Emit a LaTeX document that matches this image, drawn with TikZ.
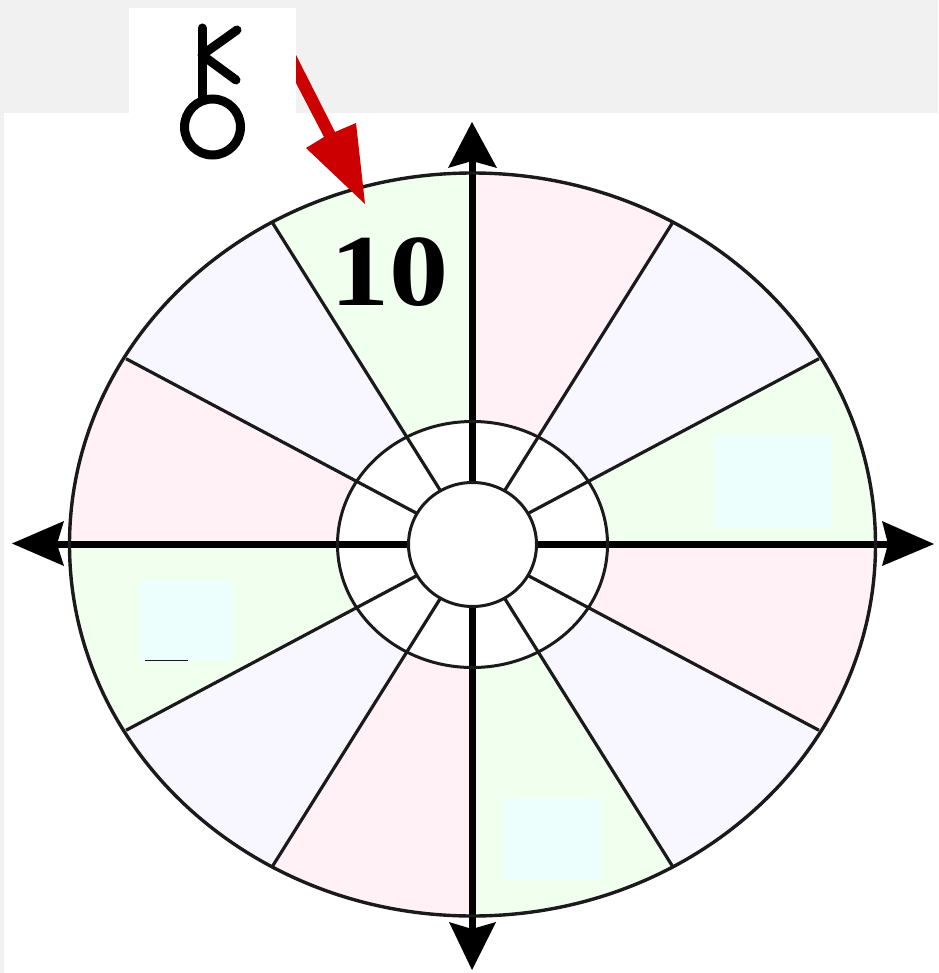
\documentclass[tikz,border=0pt]{standalone}
\usepackage{fontspec}
\setmainfont{Liberation Serif}
\definecolor{pinkS}{HTML}{FFF1F5}
\definecolor{greenS}{HTML}{F1FFEF}
\definecolor{lavS}{HTML}{F8F7FF}
\definecolor{paleBox}{HTML}{EDFFFD}
\definecolor{bandGray}{HTML}{F1F1F1}
\definecolor{redArrow}{HTML}{CC0000}
\definecolor{ringLine}{HTML}{1A1A1A}
\tikzset{
  x=1pt,y=1pt,
  ringline/.style={draw=ringLine,line width=3pt},
  spokeline/.style={draw=ringLine,line width=3.2pt},
  axisline/.style={draw=black,line width=7pt},
  headfill/.style={fill=black,draw=none},
  glyphline/.style={draw=black,line width=9pt,line cap=round,line join=round},
  palebox/.style={fill=paleBox,draw=none}
}
\begin{document}
\begin{tikzpicture}
\useasboundingbox (0,0) rectangle (938,-973);
\fill[white] (0,0) rectangle (938,-973);
% grey band and left strip
\fill[bandGray] (0,0) rectangle (938,-113);
\fill[bandGray] (0,0) rectangle (4,-973);
\fill[white] (129,-8) rectangle (296,-113);
\coordinate (c) at (472.5,-544.5);
% sectors
\begin{scope}
\clip[shift={(c)}] (0,0) ellipse [x radius=403,y radius=371.5];
\foreach \a/\b/\col in {0/30/greenS,30/60/lavS,60/90/pinkS,90/120/greenS,120/150/lavS,150/180/pinkS,180/210/greenS,210/240/lavS,240/270/pinkS,270/300/greenS,300/330/lavS,330/360/pinkS}{
  \fill[\col,shift={(c)}] (0,0) -- (\a:480 and 446) -- ++(\a+90:0) -- ({(\a+\b)/2}:560 and 520) -- (\b:480 and 446) -- cycle;
}
\end{scope}
% pale boxes
\fill[palebox] (714,-435) rectangle (832,-527);
\fill[palebox] (139,-580) rectangle (233,-660);
\fill[palebox] (503,-798) rectangle (601,-880);
\draw[draw=ringLine,line width=1.2pt] (145,-660.5) -- (188,-660.5);
% white hub ring
\fill[white,shift={(c)}] (0,0) ellipse [x radius=135,y radius=123];
% spokes
\foreach \a in {30,60,120,150,210,240,300,330}{
  \draw[spokeline,shift={(c)}] (\a:64 and 62) -- (\a:400 and 371.5);
}
% axes
\draw[axisline] (55,-544) -- (407,-544);
\draw[axisline] (535,-544) -- (890,-544);
\draw[axisline] (472,-160) -- (472,-483);
\draw[axisline] (472,-607) -- (472,-930);
% arrowheads
\fill[headfill] (12,-543.5) -- (64,-521) -- (57,-544) -- (64,-566) -- cycle;
\fill[headfill] (934,-544) -- (882,-521) -- (888,-544) -- (882,-566) -- cycle;
\fill[headfill] (472,-122) -- (448,-168) -- (472,-161) -- (497,-168) -- cycle;
\fill[headfill] (472,-970) -- (449,-922) -- (472,-929) -- (496,-922) -- cycle;
% ellipses
\draw[ringline,line width=3.4pt,shift={(c)}] (0,0) ellipse [x radius=403,y radius=371.5];
\draw[ringline,shift={(c)}] (0,0) ellipse [x radius=135,y radius=123];
\draw[ringline,fill=white,shift={(c)}] (0,0) ellipse [x radius=64,y radius=62];
% label
\node[font=\bfseries\fontsize{102}{102}\selectfont,inner sep=0pt,text=black,anchor=base,xscale=1.16,transform shape] (ten) at (389.5,-305) {10};
% chiron glyph
\draw[glyphline] (202,-28) -- (202,-98);
\draw[glyphline] (237,-30) -- (202,-55) -- (236,-80);
\draw[draw=black,line width=9pt] (212.5,-127) circle (28);
% red arrow
\fill[redArrow] (296,-55) -- (335,-132) -- (356,-123) -- (365,-204) -- (306,-148) -- (324,-137) -- (296,-83) -- cycle;
\end{tikzpicture}
\end{document}
